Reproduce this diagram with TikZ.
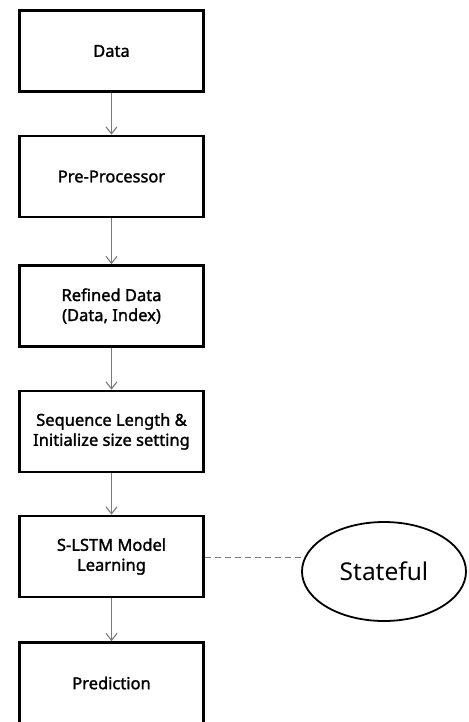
\documentclass[tikz,border=0pt]{standalone}
\usepackage{fontspec}
\setmainfont{Noto Sans}
\newfontfamily\boxfont[FakeBold=1.6]{Noto Sans}
\usetikzlibrary{arrows.meta,shapes.geometric}
\definecolor{linkgray}{HTML}{7A7A7A}
\begin{document}
\begin{tikzpicture}[x=1pt,y=-1pt,
  stepbox/.style={draw=black,line width=2.6pt,minimum width=184pt,minimum height=81pt,
    inner sep=0pt,align=center,font=\boxfont\fontsize{16.5}{20}\selectfont},
  flow/.style={draw=linkgray,line width=1.3pt,-{Straight Barb[length=7pt,width=11pt,line width=1.1pt]}},
  link/.style={draw=linkgray,line width=1.1pt,dash pattern=on 6pt off 4pt},
  bubble/.style={ellipse,draw=black,line width=1.8pt,minimum width=164pt,minimum height=99pt,
    inner sep=0pt,font=\fontsize{24.5}{28}\selectfont}
]
\useasboundingbox (0,0) rectangle (468,722);

% main processing chain
\node[stepbox] (data)  at (111.5,51)    {Data};
\node[stepbox] (pre)   at (111.5,176.5) {Pre-Processor};
\node[stepbox] (ref)   at (111.5,306)   {Refined Data\\(Data, Index)};
\node[stepbox] (seq)   at (111.5,431.5) {Sequence Length \&\\Initialize size setting};
\node[stepbox] (lstm)  at (111.5,556.5) {S-LSTM Model\\Learning};
\node[stepbox] (pred)  at (111.5,683)   {Prediction};

% side note on the learning step
\node[bubble] (state) at (384,571.5) {Stateful};

\draw[flow] (data) -- (pre);
\draw[flow] (pre) -- (ref);
\draw[flow] (ref) -- (seq);
\draw[flow] (seq) -- (lstm);
\draw[flow] (lstm) -- (pred);
\draw[link] (lstm.east |- state.170) -- (state.170);
\end{tikzpicture}
\end{document}
